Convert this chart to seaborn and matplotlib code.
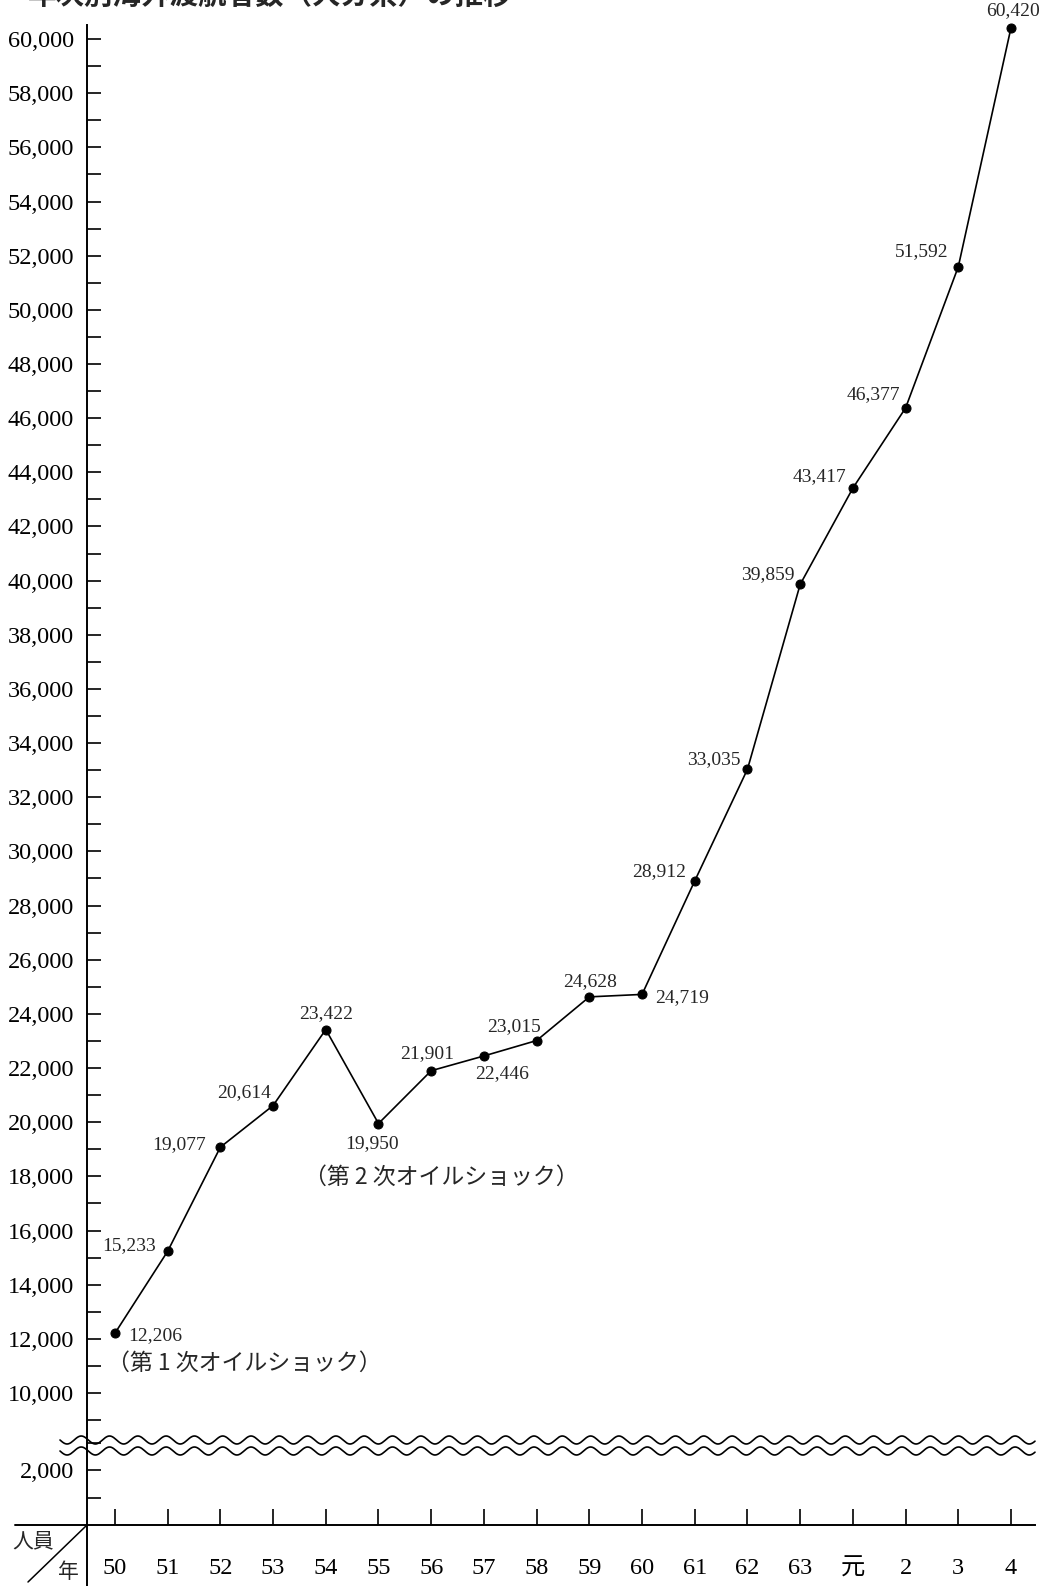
import numpy as np
import matplotlib
matplotlib.use("Agg")
import matplotlib.pyplot as plt
from matplotlib.lines import Line2D
from matplotlib.ticker import MultipleLocator, FuncFormatter
import seaborn as sns

# data
year_labels = ["50", "51", "52", "53", "54", "55", "56", "57", "58", "59",
               "60", "61", "62", "63", "元", "2", "3", "4"]
travellers = [12206, 15233, 19077, 20614, 23422, 19950, 21901, 22446, 23015,
              24628, 24719, 28912, 33035, 39859, 43417, 46377, 51592, 60420]
positions = list(range(len(year_labels)))

# label placement (pixel offsets from the point, horizontal alignment)
label_offsets = [(13, -2, "left"), (-12, 6, "right"), (-14, 3, "right"),
                 (-2, 13, "right"), (0, 16, "center"), (-6, -20, "center"),
                 (-4, 17, "center"), (18, -18, "center"), (-23, 14, "center"),
                 (1, 15, "center"), (13, -3, "left"), (-9, 9, "right"),
                 (-7, 10, "right"), (-6, 10, "right"), (-7, 11, "right"),
                 (-5, 13, "right"), (-10, 15, "right"), (2, 17, "center")]

sns.set_style("white")
plt.rcParams["font.family"] = ["Liberation Serif", "Noto Sans CJK JP", "DejaVu Sans"]

W, H = 1051, 1586
fig = plt.figure(figsize=(W / 100, H / 100), dpi=100)


def fx(px):
    return px / W


def fy(py):
    return 1 - py / H


left, right = 87, 1035
top_px, split_px, base_px = 25.5, 1433.6, 1525
ax_top = fig.add_axes([fx(left), fy(split_px), fx(right) - fx(left), fy(top_px) - fy(split_px)])
ax_bot = fig.add_axes([fx(left), fy(base_px), fx(right) - fx(left), fy(split_px) - fy(base_px)])

sns.lineplot(x=positions, y=travellers, ax=ax_top, color="black", linewidth=1.2,
             marker="o", markersize=6.5, markeredgecolor="black", clip_on=False)

for ax in (ax_top, ax_bot):
    ax.set_xlim(-0.53, 17.455)
    ax.set_facecolor("none")
    for s in ("top", "right"):
        ax.spines[s].set_visible(False)
    ax.spines["left"].set_linewidth(1.4)
    ax.spines["left"].set_color("black")
    ax.tick_params(axis="y", which="both", left=True, direction="in", length=10,
                   width=1.2, pad=9.4, labelsize=17.5, colors="black")

ax_top.set_ylim(8500, 60500)
ax_top.spines["bottom"].set_visible(False)
ax_top.set_xticks([])
ax_top.yaxis.set_major_locator(MultipleLocator(2000))
ax_top.yaxis.set_minor_locator(MultipleLocator(1000))
ax_top.yaxis.set_major_formatter(FuncFormatter(lambda v, p: f"{int(v):,}" if v >= 10000 else ""))

ax_bot.set_ylim(0, 3348)
ax_bot.set_yticks([2000])
ax_bot.set_yticklabels(["2,000"])
ax_bot.set_yticks([1000, 3000], minor=True)
ax_bot.spines["bottom"].set_linewidth(1.4)
ax_bot.spines["bottom"].set_color("black")
ax_bot.set_xticks(positions)
ax_bot.set_xticklabels(year_labels)
ax_bot.tick_params(axis="x", bottom=True, direction="in", length=11.5, width=1.2,
                   pad=24, labelsize=17.5, colors="black")

for x, v, (dx, dy, ha) in zip(positions, travellers, label_offsets):
    ax_top.annotate(f"{v:,}", (x, v), xytext=(dx, dy), textcoords="offset pixels",
                    ha=ha, va="center", fontsize=14, annotation_clip=False)

# oil shock notes
ax_top.annotate("（第 1 次オイルショック）", (0, travellers[0]), xytext=(-8, -30),
                textcoords="offset pixels", ha="left", va="center", fontsize=16.5,
                family=["Noto Sans CJK JP"])
ax_top.annotate("（第 2 次オイルショック）", (5, travellers[5]), xytext=(-74, -54),
                textcoords="offset pixels", ha="left", va="center", fontsize=16.5,
                family=["Noto Sans CJK JP"])

# title, cut by the top edge of the scan
fig.text(fx(28), fy(-4), "年次別海外渡航者数（大分県）の推移", ha="left", va="center",
         fontsize=20.5, fontweight="bold", family=["Noto Sans CJK JP"])

# axis extensions and the corner divider
fig.add_artist(Line2D([fx(15), fx(left)], [fy(base_px), fy(base_px)], color="black", lw=1.4))
fig.add_artist(Line2D([fx(left), fx(left)], [fy(base_px), fy(H)], color="black", lw=1.4))
fig.add_artist(Line2D([fx(left), fx(28)], [fy(base_px), fy(1582)], color="black", lw=1.1))
fig.text(fx(33), fy(1541), "人員", ha="center", va="center", fontsize=15,
         family=["Noto Sans CJK JP"])
fig.text(fx(68), fy(1572), "年", ha="center", va="center", fontsize=15,
         family=["Noto Sans CJK JP"])

# wavy break marks
wx = np.linspace(60, 1035, 800)
for y0 in (1440, 1451):
    wy = y0 + 4 * np.sin((wx - 60) / 28.3 * 2 * np.pi)
    fig.add_artist(Line2D(fx(wx), fy(wy), color="black", lw=1.2))

fig.savefig("out.png", dpi=100, facecolor="white")
